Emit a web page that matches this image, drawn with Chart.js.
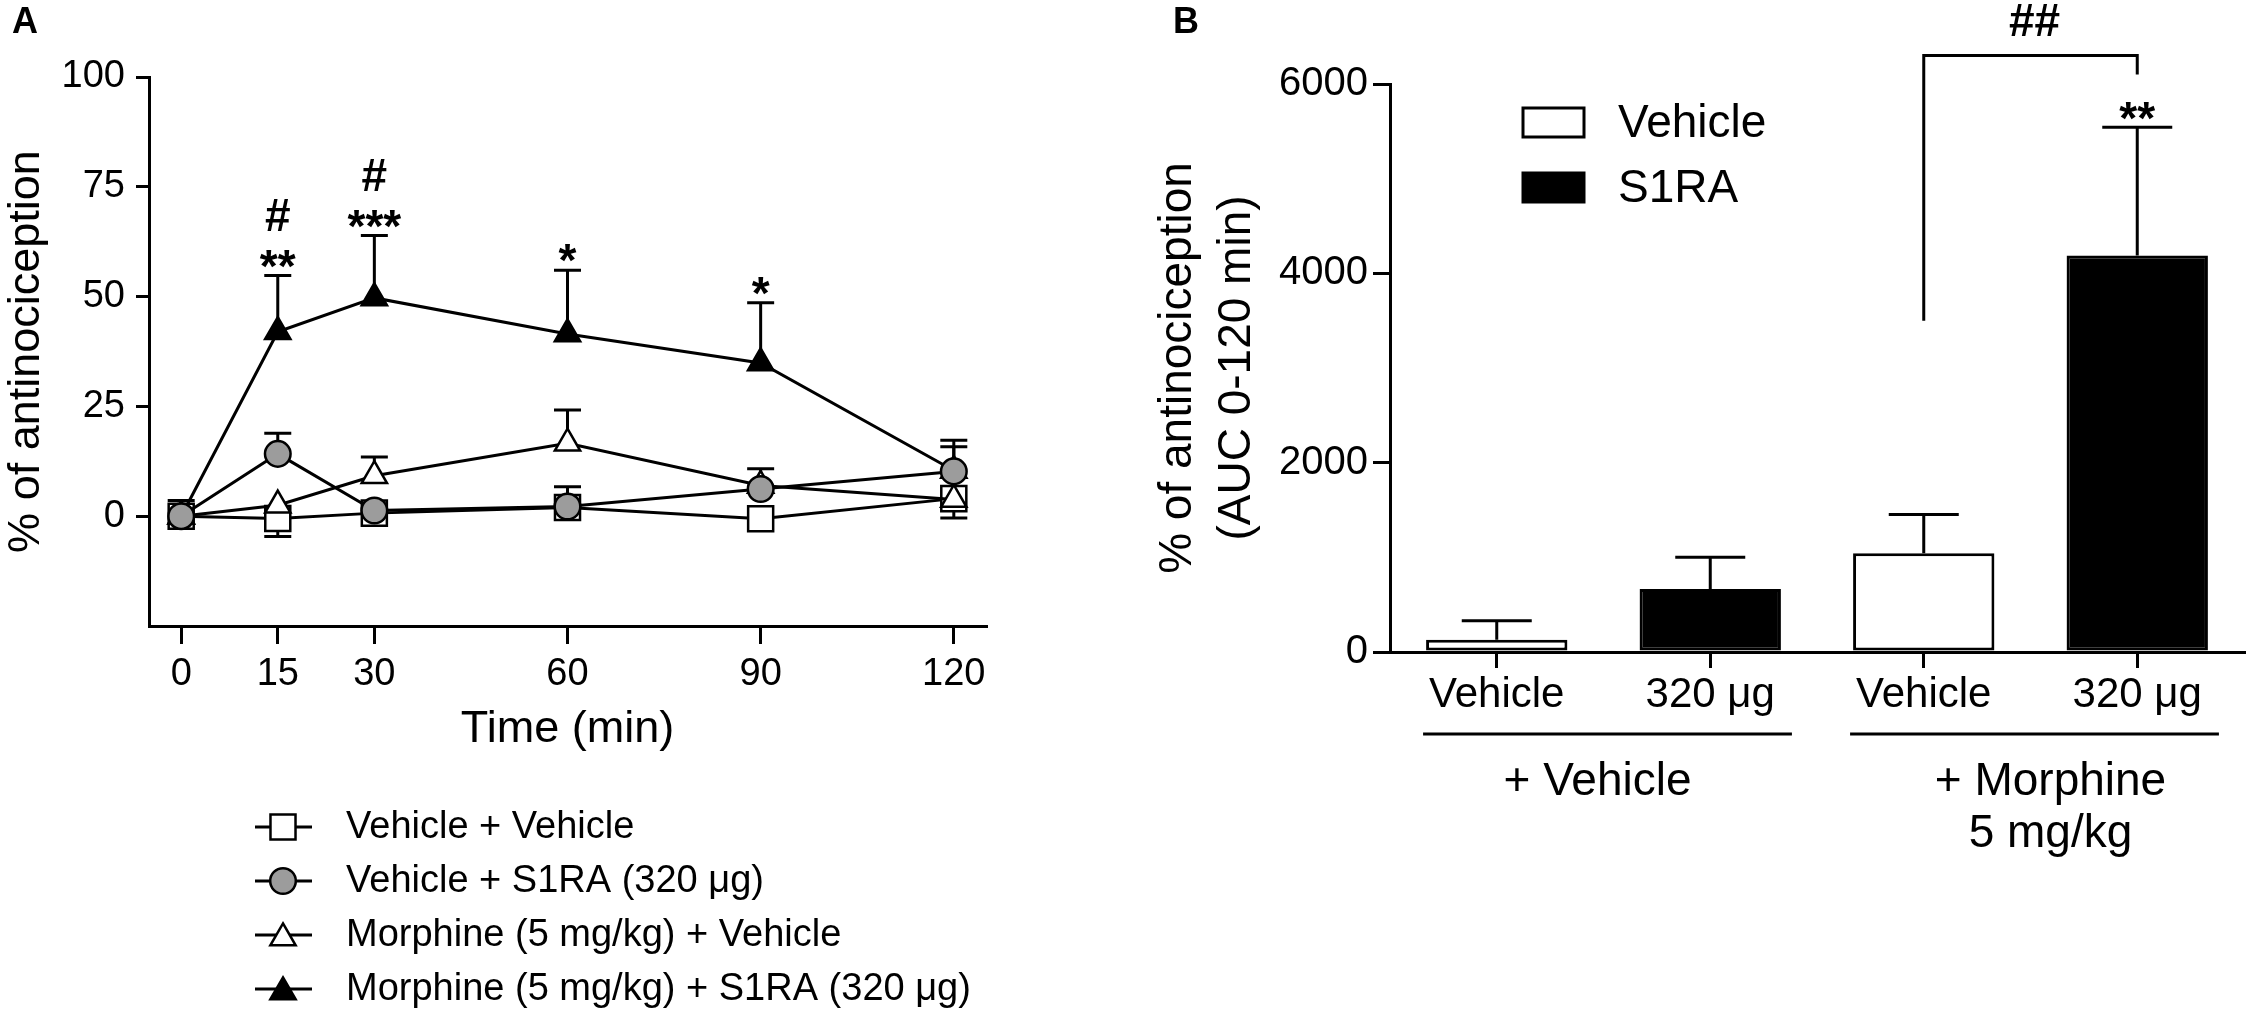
<!DOCTYPE html>
<html>
<head>
<meta charset="utf-8">
<script src="https://cdn.jsdelivr.net/npm/chart.js@4.4.1/dist/chart.umd.min.js"></script>
<style>
  html, body { margin: 0; padding: 0; background: #fff; }
  body { width: 2247px; height: 1014px; position: relative; overflow: hidden; }
  #wrapA { position: absolute; left: 0; top: 0; width: 1080px; height: 1014px; }
  #wrapB { position: absolute; left: 1100px; top: 0; width: 1147px; height: 1014px; }
</style>
</head>
<body>
<div id="wrapA"><canvas id="chartA"></canvas></div>
<div id="wrapB"><canvas id="chartB"></canvas></div>
<script>
var FONT = "Arial, 'Liberation Sans', sans-serif";

// ---------- panel A : time course ----------
var times = [0, 15, 30, 60, 90, 120];
var timeTicks = [0, 15, 30, 60, 90, 120];
var yTicksA = [0, 25, 50, 75, 100];
var seriesNames = ['Vehicle + Vehicle', 'Vehicle + S1RA (320 \u03bcg)',
                   'Morphine (5 mg/kg) + Vehicle', 'Morphine (5 mg/kg) + S1RA (320 \u03bcg)'];
// mean values
var vehVeh = [0, -0.5, 0.7, 2.0, -0.6, 4.0];
var vehS1ra = [0, 14.2, 1.3, 2.2, 6.2, 10.2];
var morVeh = [0, 2.5, 9.2, 16.6, 7.0, 3.8];
var morS1ra = [0, 42.0, 49.7, 41.5, 34.9, 10.4];
// where the visible error bar ends (null = hidden behind the symbol)
var vehVehErr = [3.6, -4.6, null, null, null, -0.4];
var vehS1raErr = [null, 18.9, null, 6.7, 10.8, 17.3];
var morVehErr = [null, null, 13.5, 24.2, null, null];
var morS1raErr = [null, 54.8, 63.9, 56.0, 48.6, 15.8];
// significance marks over the morphine + S1RA series
var starsA = ['', '**', '***', '*', '*', ''];
var hashA = ['', '#', '#', '', '', ''];

// ---------- panel B : AUC ----------
var barLabels = ['Vehicle', '320 \u03bcg', 'Vehicle', '320 \u03bcg'];
var pretreat = ['Vehicle', 'S1RA', 'Vehicle', 'S1RA'];
var aucMean = [130, 665, 1042, 4189];
var aucErr = [330, 1000, 1452, 5544];
var groupNames = [['+ Vehicle'], ['+ Morphine', '5 mg/kg']];
var groupOf = [0, 0, 1, 1];
var yTicksB = [0, 2000, 4000, 6000];
var legendB = ['Vehicle', 'S1RA'];
var starsB = ['', '', '', '**'];
var bracketB = { from: 2, to: 3, text: '##', top: 6300, leftEnd: 3500, rightEnd: 6100 };

function pts(vals) {
  return vals.map(function (v, i) { return { x: times[i], y: v }; });
}

// same geometry as chart.js point styles
function marker(ctx, style, r, x, y) {
  ctx.beginPath();
  if (style === 'circle') {
    ctx.arc(x, y, r, 0, Math.PI * 2);
  } else if (style === 'rect') {
    var s = Math.SQRT1_2 * r;
    ctx.rect(x - s, y - s, 2 * s, 2 * s);
  } else if (style === 'triangle') {
    ctx.moveTo(x, y - r);
    ctx.lineTo(x + r * Math.sin(Math.PI / 3), y + r / 2);
    ctx.lineTo(x - r * Math.sin(Math.PI / 3), y + r / 2);
  }
  ctx.closePath();
  ctx.fill();
  ctx.stroke();
}

var errA = [vehVehErr, vehS1raErr, morVehErr, morS1raErr];
var meansA = [vehVeh, vehS1ra, morVeh, morS1ra];

var errorBarsA = {
  id: 'errorBarsA',
  beforeDatasetsDraw: function (chart) {
    var ctx = chart.ctx, xs = chart.scales.x, ys = chart.scales.y;
    ctx.save();
    ctx.strokeStyle = '#000';
    ctx.lineWidth = 3;
    errA.forEach(function (errs, d) {
      errs.forEach(function (e, i) {
        if (e === null) return;
        var x = xs.getPixelForValue(times[i]);
        var y0 = ys.getPixelForValue(meansA[d][i]);
        var y1 = ys.getPixelForValue(e);
        ctx.beginPath();
        ctx.moveTo(x, y0); ctx.lineTo(x, y1);
        ctx.moveTo(x - 13.5, y1); ctx.lineTo(x + 13.5, y1);
        ctx.stroke();
      });
    });
    ctx.restore();
  }
};

var annotA = {
  id: 'annotA',
  afterDraw: function (chart) {
    var ctx = chart.ctx, xs = chart.scales.x, ys = chart.scales.y;
    ctx.save();
    ctx.fillStyle = '#000';
    ctx.textAlign = 'center';
    ctx.textBaseline = 'alphabetic';
    ctx.font = 'bold 46px ' + FONT;
    times.forEach(function (t, i) {
      var x = xs.getPixelForValue(t);
      var top = ys.getPixelForValue(morS1raErr[i] === null ? morS1ra[i] : morS1raErr[i]);
      if (starsA[i]) ctx.fillText(starsA[i], x, top + 6);
      if (hashA[i]) ctx.fillText(hashA[i], x, top - 45);
    });
    // panel letter
    ctx.textAlign = 'left';
    ctx.font = 'bold 36px ' + FONT;
    ctx.fillText('A', 12, 33);
    // legend
    ctx.font = '38px ' + FONT;
    ctx.textBaseline = 'middle';
    chart.data.datasets.forEach(function (ds, i) {
      var y = 827 + i * 54;
      ctx.strokeStyle = '#000';
      ctx.lineWidth = 3;
      ctx.beginPath();
      ctx.moveTo(255, y); ctx.lineTo(312, y);
      ctx.stroke();
      ctx.fillStyle = ds.pointBackgroundColor;
      ctx.lineWidth = ds.pointBorderWidth;
      marker(ctx, ds.pointStyle, ds.pointRadius, 283, y + (ds.pointStyle === 'triangle' ? 3 : 0));
      ctx.fillStyle = '#000';
      ctx.fillText(ds.label, 346, y + 1);
    });
    ctx.restore();
  }
};

var styleA = [
  { style: 'rect', r: 17.7, fill: '#ffffff', order: 4 },
  { style: 'circle', r: 12.8, fill: '#9c9c9c', order: 1 },
  { style: 'triangle', r: 14.6, fill: '#ffffff', order: 3 },
  { style: 'triangle', r: 14.6, fill: '#000000', order: 2 }
];

var chartA = new Chart(document.getElementById('chartA'), {
  type: 'line',
  data: {
    datasets: meansA.map(function (vals, d) {
      return {
        label: seriesNames[d],
        data: pts(vals),
        order: styleA[d].order,
        borderColor: '#000',
        borderWidth: 3,
        tension: 0,
        pointStyle: styleA[d].style,
        pointRadius: styleA[d].r,
        pointHoverRadius: styleA[d].r,
        pointBackgroundColor: styleA[d].fill,
        pointBorderColor: '#000',
        pointBorderWidth: 2.5,
        clip: false
      };
    })
  },
  options: {
    responsive: true,
    maintainAspectRatio: false,
    animation: false,
    layout: { padding: { left: 0, top: 77, right: 94, bottom: 248 } },
    plugins: { legend: { display: false }, tooltip: { enabled: false } },
    scales: {
      x: {
        type: 'linear', min: -5, max: 125,
        afterBuildTicks: function (axis) { axis.ticks = timeTicks.map(function (v) { return { value: v }; }); },
        afterFit: function (s) { s.height = 140; },
        grid: { drawOnChartArea: false, tickLength: 18, color: '#000', lineWidth: 3 },
        border: { color: '#000', width: 3 },
        ticks: { color: '#000', font: { family: FONT, size: 38 }, padding: 8, maxRotation: 0, autoSkip: false },
        title: { display: true, text: 'Time (min)', color: '#000', font: { family: FONT, size: 45 }, padding: { top: 0, bottom: 9 } }
      },
      y: {
        min: -25, max: 100,
        afterBuildTicks: function (axis) { axis.ticks = yTicksA.map(function (v) { return { value: v }; }); },
        afterFit: function (s) { s.width = 149; },
        grid: { drawOnChartArea: false, tickLength: 13, color: '#000', lineWidth: 3 },
        border: { color: '#000', width: 3 },
        ticks: { color: '#000', font: { family: FONT, size: 38 }, padding: 11 },
        title: { display: true, text: '% of antinociception', color: '#000', font: { family: FONT, size: 45 }, padding: { top: 0, bottom: 0 } }
      }
    }
  },
  plugins: [errorBarsA, annotA]
});

// ---------- panel B chart ----------
var annotB = {
  id: 'annotB',
  afterDraw: function (chart) {
    var ctx = chart.ctx, ys = chart.scales.y;
    function bar(i) {
      return chart.getDatasetMeta(legendB.indexOf(pretreat[i])).data[i];
    }
    ctx.save();
    ctx.strokeStyle = '#000';
    ctx.fillStyle = '#000';
    ctx.lineWidth = 3;
    // error bars
    aucMean.forEach(function (v, i) {
      var x = bar(i).x;
      var y0 = ys.getPixelForValue(v), y1 = ys.getPixelForValue(aucErr[i]);
      ctx.beginPath();
      ctx.moveTo(x, y0); ctx.lineTo(x, y1);
      ctx.moveTo(x - 35, y1); ctx.lineTo(x + 35, y1);
      ctx.stroke();
    });
    ctx.textAlign = 'center';
    ctx.textBaseline = 'alphabetic';
    ctx.font = 'bold 46px ' + FONT;
    starsB.forEach(function (s, i) {
      if (s) ctx.fillText(s, bar(i).x, ys.getPixelForValue(aucErr[i]) + 7);
    });
    // bracket
    var xl = bar(bracketB.from).x, xr = bar(bracketB.to).x;
    var yt = ys.getPixelForValue(bracketB.top);
    ctx.beginPath();
    ctx.moveTo(xl, ys.getPixelForValue(bracketB.leftEnd));
    ctx.lineTo(xl, yt);
    ctx.lineTo(xr, yt);
    ctx.lineTo(xr, ys.getPixelForValue(bracketB.rightEnd));
    ctx.stroke();
    ctx.fillText(bracketB.text, (xl + xr) / 2 + 4, yt - 20);
    // group lines and labels
    ctx.font = '46px ' + FONT;
    ctx.textBaseline = 'middle';
    groupNames.forEach(function (lines, g) {
      var left = Infinity, right = -Infinity;
      groupOf.forEach(function (gg, i) {
        if (gg !== g) return;
        var b = bar(i);
        left = Math.min(left, b.x - b.width / 2);
        right = Math.max(right, b.x + b.width / 2);
      });
      ctx.beginPath();
      ctx.moveTo(left - 3, 734); ctx.lineTo(right + 11, 734);
      ctx.stroke();
      lines.forEach(function (t, k) {
        ctx.fillText(t, (left + right) / 2 + (g ? 20 : -6), 782 + k * 52);
      });
    });
    // legend
    var ca = chart.chartArea;
    ctx.font = '46px ' + FONT;
    chart.data.datasets.forEach(function (ds, i) {
      var bx = ca.left + 133, by = 108 + i * 65;
      ctx.fillStyle = ds.backgroundColor;
      ctx.fillRect(bx, by, 61, 29);
      ctx.strokeRect(bx, by, 61, 29);
      ctx.fillStyle = '#000';
      ctx.textAlign = 'left';
      ctx.fillText(ds.label, ca.left + 228, by + 16);
    });
    // panel letter
    ctx.font = 'bold 36px ' + FONT;
    ctx.textBaseline = 'alphabetic';
    ctx.fillText('B', 73, 33);
    ctx.restore();
  }
};

var chartB = new Chart(document.getElementById('chartB'), {
  type: 'bar',
  data: {
    labels: barLabels,
    datasets: legendB.map(function (name) {
      return {
        label: name,
        data: aucMean.map(function (v, i) { return pretreat[i] === name ? v : null; }),
        backgroundColor: name === 'Vehicle' ? '#ffffff' : '#000000',
        borderColor: '#000',
        borderWidth: 3,
        borderSkipped: false,
        barPercentage: 0.662,
        categoryPercentage: 1,
        skipNull: true
      };
    })
  },
  options: {
    responsive: true,
    maintainAspectRatio: false,
    animation: false,
    layout: { padding: { left: 0, top: 84, right: 3, bottom: 292 } },
    plugins: { legend: { display: false }, tooltip: { enabled: false } },
    scales: {
      x: {
        afterFit: function (s) { s.height = 70; },
        grid: { offset: false, drawOnChartArea: false, tickLength: 16, color: '#000', lineWidth: 3 },
        border: { color: '#000', width: 3 },
        ticks: { color: '#000', font: { family: FONT, size: 42 }, padding: 2, maxRotation: 0, autoSkip: false }
      },
      y: {
        min: 0, max: 6000,
        afterBuildTicks: function (axis) { axis.ticks = yTicksB.map(function (v) { return { value: v }; }); },
        afterFit: function (s) { s.width = 290; },
        grid: { drawOnChartArea: false, tickLength: 17, color: '#000', lineWidth: 3 },
        border: { color: '#000', width: 3 },
        ticks: { color: '#000', font: { family: FONT, size: 40 }, padding: 5,
                 callback: function (v) { return String(v); } },
        title: {
          display: true, text: ['% of antinociception', '(AUC 0-120 min)'], color: '#000',
          font: { family: FONT, size: 46, lineHeight: 1.28 }, padding: { top: 49, bottom: 0 }
        }
      }
    }
  },
  plugins: [annotB]
});
</script>
</body>
</html>
